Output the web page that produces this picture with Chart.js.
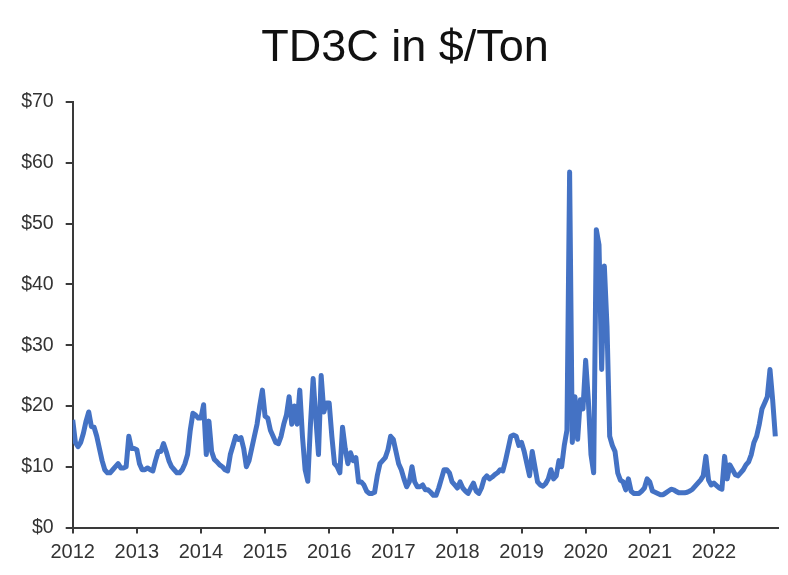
<!DOCTYPE html>
<html>
<head>
<meta charset="utf-8">
<title>TD3C in $/Ton</title>
<script src="https://cdn.jsdelivr.net/npm/chart.js@4/dist/chart.umd.min.js"></script>
<style>
  html, body { margin: 0; padding: 0; background: #fff; }
  #wrap { width: 788px; height: 575px; position: relative; }
</style>
</head>
<body>
<div id="wrap"><canvas id="chart"></canvas></div>
<script>
'use strict';

// TD3C rate, roughly two readings per month
const years = [2012, 2013, 2014, 2015, 2016, 2017, 2018, 2019, 2020, 2021, 2022];

const y2012 = [17.7, 14, 13.3, 14, 15.5, 17.5, 19, 16.6, 16.5, 15, 13, 11, 9.5, 9, 9, 9.5, 10, 10.5, 9.8, 9.8, 10, 15, 13, 13];
const y2013 = [12.8, 10.5, 9.5, 9.5, 9.8, 9.5, 9.3, 11, 12.5, 12.5, 13.8, 12.5, 11, 10, 9.5, 9, 9, 9.5, 10.5, 12, 16, 18.8, 18.5, 18];
const y2014 = [18, 20.2, 12, 17.5, 12.5, 11.2, 10.8, 10.3, 10, 9.5, 9.3, 12, 13.5, 15, 14.5, 14.8, 13, 10, 11, 13, 15, 17, 20, 22.6];
const y2015 = [18.3, 18, 16, 15, 14, 13.8, 15, 17, 18.5, 21.5, 17, 20, 17, 22.6, 15, 9.5, 7.6, 17, 24.5, 18, 12, 25, 19, 20.5];
const y2016 = [20.5, 15, 10.5, 10, 9, 16.5, 13, 10.5, 12.3, 11, 11.5, 7.5, 7.5, 7, 6, 5.6, 5.6, 5.8, 8.5, 10.5, 11, 11.5, 12.8, 15];
const y2017 = [14.5, 12.5, 10.5, 9.5, 8, 6.7, 7.5, 10, 7.5, 6.7, 6.7, 7, 6.2, 6.2, 5.8, 5.3, 5.3, 6.5, 8, 9.5, 9.5, 9, 7.5, 7];
const y2018 = [6.5, 7.5, 6.5, 6, 5.6, 6.5, 7.3, 6, 5.6, 6.5, 8, 8.5, 8, 8.3, 8.7, 9, 9.5, 9.3, 11, 13, 15, 15.2, 15, 13.5];
const y2019 = [14, 12.5, 10.5, 8.5, 12.5, 10, 7.5, 7, 6.8, 7.2, 8, 9.5, 8, 8.5, 11, 10, 13.5, 16, 58.5, 14, 21.5, 14.5, 21, 19.5];
const y2020 = [27.5, 21, 12, 9, 49, 46.5, 26, 43, 33, 15, 13.5, 12.5, 9, 7.8, 7.5, 6.2, 8, 6, 5.6, 5.6, 5.6, 6, 6.5, 8];
const y2021 = [7.5, 6, 5.8, 5.6, 5.4, 5.4, 5.7, 6, 6.3, 6.2, 5.9, 5.7, 5.7, 5.7, 5.8, 6, 6.3, 6.8, 7.3, 7.8, 8.5, 11.7, 7.8, 7];
const y2022 = [7.3, 6.9, 6.5, 6.3, 11.7, 8, 10.3, 9.5, 8.7, 8.5, 9, 9.5, 10.3, 10.8, 12, 14, 15, 17, 19.5, 20.5, 21.5, 26, 21, 15];

const yearValues = [y2012, y2013, y2014, y2015, y2016, y2017, y2018, y2019, y2020, y2021, y2022];

const yTicks = [0, 10, 20, 30, 40, 50, 60, 70];

let points = [];
for (let i = 0; i < years.length; i++) {
  let vals = yearValues[i];
  for (let j = 0; j < vals.length; j++) {
    points.push({ x: years[i] + j / vals.length, y: vals[j] });
  }
}

const axisColor = '#3a3a3a';
const labelFont = "'Liberation Sans', Arial, sans-serif";

// title sits a bit right of the canvas centre in the original
const titleShift = {
  id: 'titleShift',
  afterLayout: function (chart) {
    if (chart.titleBlock) {
      chart.titleBlock.left += 32;
    }
  }
};

let ctx = document.getElementById('chart').getContext('2d');

new Chart(ctx, {
  type: 'line',
  data: {
    datasets: [{
      label: 'TD3C',
      data: points,
      borderColor: '#4472C4',
      borderWidth: 5,
      borderJoinStyle: 'round',
      pointRadius: 0,
      tension: 0,
      fill: false
    }]
  },
  plugins: [titleShift],
  options: {
    responsive: true,
    maintainAspectRatio: false,
    animation: false,
    layout: { padding: { left: 0, right: 10, top: 0, bottom: 0 } },
    plugins: {
      legend: { display: false },
      tooltip: { enabled: false },
      title: {
        display: true,
        text: 'TD3C in $/Ton',
        color: '#111',
        font: { family: labelFont, size: 45, weight: 'normal', lineHeight: 1.2 },
        padding: { top: 22, bottom: 26 }
      }
    },
    scales: {
      x: {
        type: 'linear',
        min: 2012,
        max: 2023,
        afterFit: function (s) { s.height = 47.5; },
        ticks: {
          stepSize: 1,
          color: '#333',
          font: { family: labelFont, size: 20 },
          padding: 7,
          maxRotation: 0,
          callback: function (v) {
            if (v === 2023) return null;
            return String(v);
          }
        },
        grid: {
          display: true,
          drawOnChartArea: false,
          drawTicks: true,
          tickLength: 6,
          color: axisColor,
          lineWidth: 2
        },
        border: { display: true, color: axisColor, width: 2 }
      },
      y: {
        min: 0,
        max: 70,
        afterFit: function (s) { s.width = 72.7; },
        afterBuildTicks: function (s) {
          s.ticks = yTicks.map(function (v) { return { value: v }; });
        },
        ticks: {
          color: '#333',
          font: { family: labelFont, size: 19.5 },
          padding: 12,
          callback: function (v) { return '$' + v; }
        },
        grid: {
          display: true,
          drawOnChartArea: false,
          drawTicks: true,
          tickLength: 7,
          color: axisColor,
          lineWidth: 2
        },
        border: { display: true, color: axisColor, width: 2 }
      }
    }
  }
});
</script>
</body>
</html>
